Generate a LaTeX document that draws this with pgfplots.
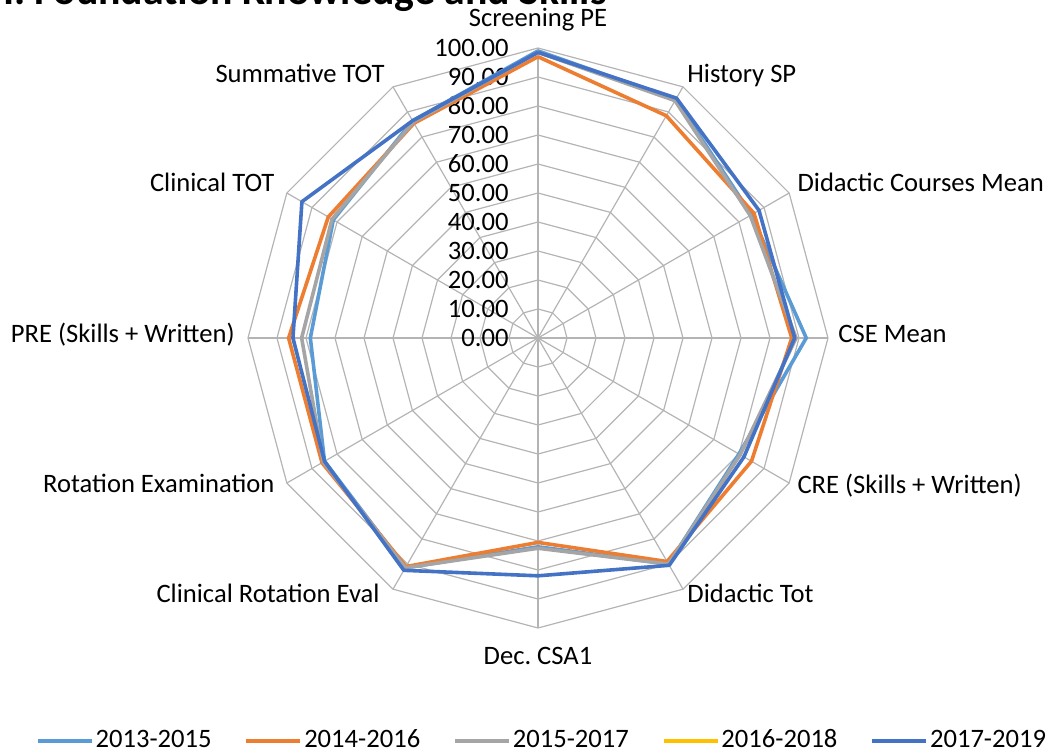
\documentclass[border=0pt]{standalone}
\usepackage{fontspec}
\setmainfont{Carlito}
\usepackage{pgfplots}
\pgfplotsset{compat=1.18}
\usepgfplotslibrary{polar}
\frenchspacing
\definecolor{c1}{HTML}{5B9BD5}
\definecolor{c2}{HTML}{ED7D31}
\definecolor{c3}{HTML}{A5A5A5}
\definecolor{c4}{HTML}{FFC000}
\definecolor{c5}{HTML}{4472C4}
\definecolor{gridc}{HTML}{B4B4B4}
\newcommand\lf{\fontsize{13.3}{15}\selectfont}
\begin{document}
\begin{tikzpicture}
\useasboundingbox (0,0) rectangle (524.5pt,-377pt);
\node[anchor=base east, font=\bfseries\fontsize{20.9}{24}\selectfont, inner sep=0] at (303.5pt,-2.5pt) {I. Foundation Knowledge and Skills};
\begin{polaraxis}[
  at={(269pt,-169pt)}, anchor=center,
  scale only axis, width=290pt, height=290pt,
  xmin=0, xmax=360, ymin=0, ymax=100,
  hide axis, clip=false,
  legend columns=5,
  legend style={at={(0.507,-0.195)}, anchor=center, draw=none, fill=none, font=\lf,
    inner sep=0pt,
    nodes={text height=8.6pt, text depth=2pt, inner sep=1pt},
    /tikz/every even column/.append style={column sep=15.5pt}},
  legend image code/.code={\draw[#1] (0pt,0pt) -- (27pt,0pt);},
  every axis plot/.append style={line width=1.8pt, line join=round},
]
% polygonal grid
\pgfplotsinvokeforeach{10,20,...,100}{
  \addplot[gridc, line width=0.6pt, forget plot] coordinates {(90,#1) (60,#1) (30,#1) (0,#1) (-30,#1) (-60,#1) (-90,#1) (-120,#1) (-150,#1) (-180,#1) (-210,#1) (-240,#1) (-270,#1)};
}
\pgfplotsinvokeforeach{0,30,...,330}{
  \addplot[gridc, line width=0.6pt, forget plot] coordinates {(#1,0) (#1,100)};
}
% radial tick labels
\pgfplotsinvokeforeach{0,10,...,100}{
  \node[anchor=east, xshift=-14.5pt, inner sep=0pt, font=\lf] at (axis cs:90,#1) {#1.00};
}
% category labels
\node[anchor=mid, yshift=13pt, font=\lf] at (axis cs:90,100) {Screening PE};
\node[anchor=mid west, xshift=2pt, yshift=4.5pt, inner sep=0pt, font=\lf] at (axis cs:60,100) {History SP};
\node[anchor=mid west, xshift=4pt, yshift=3pt, inner sep=0pt, font=\lf] at (axis cs:30,100) {Didactic Courses Mean};
\node[anchor=mid west, xshift=5pt, inner sep=0pt, font=\lf] at (axis cs:0,100) {CSE Mean};
\node[anchor=mid west, xshift=4pt, yshift=-3pt, inner sep=0pt, font=\lf] at (axis cs:-30,100) {CRE (Skills + Written)};
\node[anchor=mid west, xshift=2pt, yshift=-4.5pt, inner sep=0pt, font=\lf] at (axis cs:-60,100) {Didactic Tot};
\node[anchor=mid, yshift=-16pt, inner sep=0pt, font=\lf] at (axis cs:-90,100) {Dec.\ CSA1};
\node[anchor=mid east, xshift=-6.5pt, yshift=-4.5pt, inner sep=0pt, font=\lf] at (axis cs:-120,100) {Clinical Rotation Eval};
\node[anchor=mid east, xshift=-6pt, yshift=-2.5pt, inner sep=0pt, font=\lf] at (axis cs:-150,100) {Rotation Examination};
\node[anchor=mid east, xshift=-6.5pt, inner sep=0pt, font=\lf] at (axis cs:180,100) {PRE (Skills + Written)};
\node[anchor=mid east, xshift=-6pt, yshift=3pt, inner sep=0pt, font=\lf] at (axis cs:150,100) {Clinical TOT};
\node[anchor=mid east, xshift=-4pt, yshift=4.5pt, inner sep=0pt, font=\lf] at (axis cs:120,100) {Summative TOT};
% series: angle, value
\addplot[c1] coordinates {(90,99) (60,95) (30,85) (0,92.5) (-30,80) (-60,90) (-90,72) (-120,91.5) (-150,85) (-180,78.5) (-210,81.5) (-240,86.5) (-270,99)};
\addlegendentry{2013-2015}
\addplot[c2] coordinates {(90,97) (60,88.5) (30,86) (0,87.5) (-30,85) (-60,89) (-90,70.5) (-120,91) (-150,86) (-180,86) (-210,83.5) (-240,85.5) (-270,97)};
\addlegendentry{2014-2016}
\addplot[c3] coordinates {(90,98.5) (60,94.5) (30,84.5) (0,89) (-30,80.5) (-60,90) (-90,72.5) (-120,91.5) (-150,85.5) (-180,81.5) (-210,82) (-240,86) (-270,98.5)};
\addlegendentry{2015-2017}
\addlegendimage{c4, line width=1.8pt}
\addlegendentry{2016-2018}
\addplot[c5] coordinates {(90,98.5) (60,95.5) (30,88) (0,88.5) (-30,82) (-60,90.5) (-90,82) (-120,92.5) (-150,85) (-180,84.5) (-210,94) (-240,86.5) (-270,98.5)};
\addlegendentry{2017-2019}
\end{polaraxis}
\end{tikzpicture}
\end{document}
